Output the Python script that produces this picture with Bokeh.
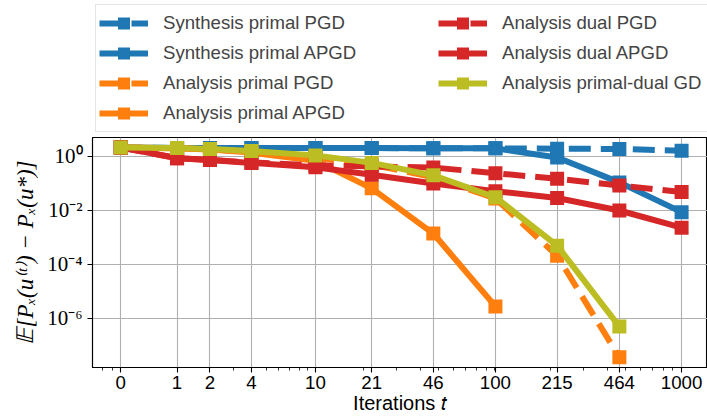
from bokeh.plotting import figure
from bokeh.layouts import column
from bokeh.models import Range1d, FixedTicker, Legend, LegendItem
from bokeh.embed import file_html
from bokeh.resources import INLINE

# ---- data ----
iterations = [0, 1, 2, 4, 10, 21, 46, 100, 215, 464, 1000]

synthesis_primal_pgd = [2.15, 2.05, 2.05, 2.05, 2.05, 2.05, 2.0, 2.0, 1.95, 1.9, 1.65]
synthesis_primal_apgd = [2.15, 2.05, 2.05, 2.05, 2.05, 2.05, 2.0, 2.0, 0.92, 0.11, 0.0087]
analysis_primal_pgd = [2.15, 2.0, 1.85, 1.5, 0.9, 0.5, 0.17, 0.028, 2.1e-4, 3.7e-8]
analysis_primal_apgd = [2.15, 2.0, 1.8, 1.4, 0.7, 0.066, 0.0014, 2.8e-6]
analysis_dual_pgd = [2.15, 0.87, 0.75, 0.6, 0.47, 0.43, 0.39, 0.24, 0.15, 0.085, 0.048]
analysis_dual_apgd = [2.15, 0.87, 0.74, 0.58, 0.40, 0.21, 0.1, 0.052, 0.029, 0.01, 0.0023]
analysis_primal_dual_gd = [2.15, 2.05, 1.9, 1.6, 1.1, 0.58, 0.2, 0.031, 5e-4, 5e-7]

series_names = ["Synthesis primal PGD", "Synthesis primal APGD", "Analysis primal PGD",
                "Analysis primal APGD", "Analysis dual PGD", "Analysis dual APGD",
                "Analysis primal-dual GD"]
series_values = [synthesis_primal_pgd, synthesis_primal_apgd, analysis_primal_pgd,
                 analysis_primal_apgd, analysis_dual_pgd, analysis_dual_apgd,
                 analysis_primal_dual_gd]
series_colors = ["#1f77b4", "#1f77b4", "#ff7f0e", "#ff7f0e", "#d62728", "#d62728", "#bcbd22"]
series_dashed = [True, False, True, False, True, False, False]

x_tick_labels = ["0", "1", "2", "4", "10", "21", "46", "100", "215", "464", "1000"]
y_tick_values = [1.0, 1e-2, 1e-4, 1e-6]
y_tick_labels = ["10\u2070", "10\u207b\u00b2", "10\u207b\u2074", "10\u207b\u2076"]
x_minor_ticks = [0.8, 0.9, 4, 6, 7, 8, 9, 10, 20, 30, 40, 50, 60, 70, 80, 90,
                 100, 200, 300, 400, 500, 600, 700, 800, 900, 1000]

LINE_W = 6
DASH = "22 10"


def draw_series(fig):
    handles = []
    for name, vals, color, dashed in zip(series_names, series_values, series_colors,
                                         series_dashed):
        xs = [t + 1 for t in iterations[:len(vals)]]
        r_line = fig.line(xs, vals, line_color=color, line_width=LINE_W,
                          line_dash=DASH if dashed else "solid")
        r_mark = fig.scatter(xs, vals, marker="square", size=14, fill_color=color,
                             line_color=color, line_width=0)
        handles.append((name, r_line, r_mark))
    return handles


# ---- main figure ----
p = figure(width=707, height=281, x_axis_type="log", y_axis_type="log",
           x_range=Range1d(10 ** -0.1514, 10 ** 3.139),
           y_range=Range1d(10 ** -7.815, 10 ** 0.7037),
           output_backend="svg", toolbar_location=None,
           min_border_left=92, min_border_right=0, min_border_top=0, min_border_bottom=51)

p.background_fill_color = "white"
p.border_fill_color = "white"
p.outline_line_color = "black"
p.outline_line_width = 1.1

draw_series(p)

# x axis
x_major = [t + 1 for t in iterations]
p.xaxis.ticker = FixedTicker(ticks=x_major, minor_ticks=x_minor_ticks)
p.xaxis.major_label_overrides = {float(v): lab for v, lab in zip(x_major, x_tick_labels)}
p.xaxis.axis_label = "Iterations \U0001D461"
p.xaxis.axis_label_text_font = "Liberation Sans"
p.xaxis.axis_label_text_font_style = "normal"
p.xaxis.axis_label_text_font_size = "20px"
p.xaxis.axis_label_standoff = 0
p.xaxis.major_label_text_font = "Liberation Sans"
p.xaxis.major_label_text_font_size = "18.7px"
p.xaxis.major_label_standoff = 3

# y axis
p.yaxis.ticker = FixedTicker(ticks=y_tick_values, minor_ticks=[])
p.yaxis.major_label_overrides = {v: lab for v, lab in zip(y_tick_values, y_tick_labels)}
p.yaxis.axis_label = "\U0001D53C[P\u2093(u\u207d\u1d57\u207e) \u2212 P\u2093(u*)]"
p.yaxis.axis_label_text_font = "Liberation Serif"
p.yaxis.axis_label_text_font_style = "italic"
p.yaxis.axis_label_text_font_size = "23px"
p.yaxis.axis_label_standoff = 6
p.yaxis.major_label_text_font = "Liberation Serif"
p.yaxis.major_label_text_font_size = "21px"
p.yaxis.major_label_standoff = 5

for ax in (p.xaxis, p.yaxis):
    ax.axis_line_color = "black"
    ax.axis_line_width = 1.1
    ax.major_tick_line_color = "black"
    ax.major_tick_line_width = 1.1
    ax.major_tick_in = 0
    ax.major_tick_out = 5
    ax.minor_tick_line_color = "black"
    ax.minor_tick_line_width = 0.8
    ax.minor_tick_in = 0
    ax.minor_tick_out = 3
    ax.axis_label_text_color = "black"
    ax.major_label_text_color = "black"

p.grid.grid_line_color = "#b0b0b0"
p.grid.grid_line_width = 1.1
p.xgrid.minor_grid_line_color = None
p.ygrid.minor_grid_line_color = None

# ---- legend strip (separate figure above the plot; its ranges keep the data out of view) ----
lg = figure(width=707, height=137, output_backend="svg", toolbar_location=None,
            x_range=Range1d(-3, -2), y_range=Range1d(-3, -2),
            x_axis_location=None, y_axis_location=None,
            min_border_left=0, min_border_right=0, min_border_top=0, min_border_bottom=0)
lg.grid.visible = False
lg.outline_line_color = None
lg.background_fill_color = "white"
lg.border_fill_color = "white"

items = [LegendItem(label=name, renderers=[r_line, r_mark])
         for name, r_line, r_mark in draw_series(lg)]

legend = Legend(items=items, ncols=2, location=(3, 5), margin=0, padding=3,
                spacing=0, glyph_width=49, glyph_height=30, label_height=30,
                label_standoff=15, label_width=275,
                label_text_font="Liberation Sans", label_text_font_size="18.6px",
                border_line_color="#cccccc", border_line_width=1,
                background_fill_color="white", background_fill_alpha=0.8)
lg.add_layout(legend, "center")

layout = column(lg, p, spacing=0)
open("out.html", "w").write(file_html(layout, INLINE))
